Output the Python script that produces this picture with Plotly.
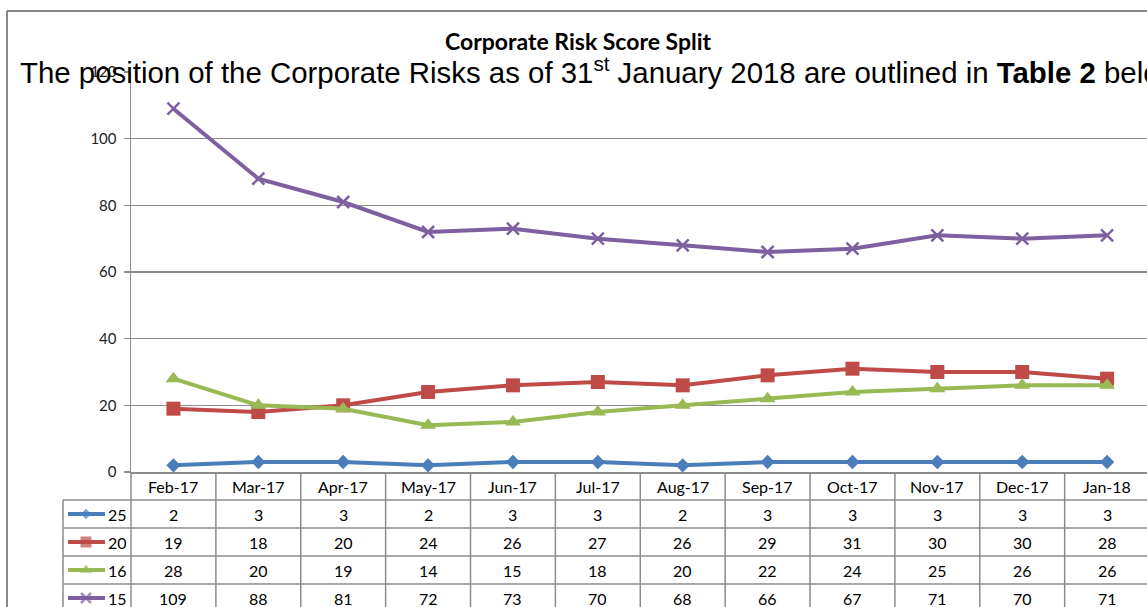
import plotly.graph_objects as go

months = ["Feb-17", "Mar-17", "Apr-17", "May-17", "Jun-17", "Jul-17",
          "Aug-17", "Sep-17", "Oct-17", "Nov-17", "Dec-17", "Jan-18"]
series_names = ["25", "20", "16", "15"]
s25 = [2, 3, 3, 2, 3, 3, 2, 3, 3, 3, 3, 3]
s20 = [19, 18, 20, 24, 26, 27, 26, 29, 31, 30, 30, 28]
s16 = [28, 20, 19, 14, 15, 18, 20, 22, 24, 25, 26, 26]
s15 = [109, 88, 81, 72, 73, 70, 68, 66, 67, 71, 70, 71]
y_ticks = [0, 20, 40, 60, 80, 100, 120]

series = [s25, s20, s16, s15]
colors = ["#4A7EBB", "#BE4B48", "#98B954", "#7D60A0"]
symbols = ["diamond", "square", "triangle-up", "x-thin"]
msizes = [11, 14, 14, 12]
key_sizes = [8, 11, 11, 10]

# page geometry (screen pixels); body margin removed in post_script
OFF = 0
SCREEN_W, SCREEN_H = 1147, 607
Wf, Hf = SCREEN_W - OFF, SCREEN_H - OFF
left_px, top_px, bottom_px = 131, 72, 472
legend_left_px = 63
row_h = 28
x_hi = 11.47
grid = "#8C8C8C"
font_c = "Lato, 'Liberation Sans', sans-serif"


def px(x):
    return (x - OFF) / Wf


def py(y):
    return 1 - (y - OFF) / Hf


def mline(sym, c):
    return dict(color=c, width=2.5 if sym == "x-thin" else 0)


fig = go.Figure()
for name, vals, c, sym, ms in zip(series_names, series, colors, symbols, msizes):
    fig.add_trace(go.Scatter(
        x=months, y=vals, mode="lines+markers", name=name,
        line=dict(color=c, width=4),
        marker=dict(symbol=sym, size=ms, color=c, line=mline(sym, c)),
        showlegend=False, cliponaxis=False, hoverinfo="skip"))

# legend keys in the table's left column (overlay axes in screen-pixel units)
for i, (c, sym, ks) in enumerate(zip(colors, symbols, key_sizes)):
    yc = bottom_px + row_h * (i + 1.5)
    fig.add_trace(go.Scatter(
        x=[68, 86, 105], y=[yc, yc, yc], mode="lines+markers",
        line=dict(color=c, width=4),
        marker=dict(symbol=sym, size=[0, ks, 0], color=c, line=mline(sym, c)),
        xaxis="x2", yaxis="y2", showlegend=False, cliponaxis=False, hoverinfo="skip"))

colw_px = (SCREEN_W - left_px) / (x_hi + 0.5)

shapes = []
line = dict(color=grid, width=1.5)
border = dict(color="#878787", width=2)
shapes.append(dict(type="line", xref="paper", yref="paper", x0=px(7), x1=1,
                   y0=py(11), y1=py(11), line=border))
shapes.append(dict(type="line", xref="paper", yref="paper", x0=px(7), x1=px(7),
                   y0=py(11), y1=0, line=border))
# table vertical lines
for k in range(len(months) + 1):
    xk = px(left_px + k * colw_px)
    if xk > 1:
        break
    shapes.append(dict(type="line", xref="paper", yref="paper", x0=xk, x1=xk,
                       y0=py(bottom_px), y1=0, line=line))
shapes.append(dict(type="line", xref="paper", yref="paper", x0=px(legend_left_px),
                   x1=px(legend_left_px), y0=py(bottom_px + row_h), y1=0, line=line))
# table horizontal lines
for r in range(1, len(series) + 1):
    yr = py(bottom_px + r * row_h)
    shapes.append(dict(type="line", xref="paper", yref="paper", x0=px(legend_left_px),
                       x1=1, y0=yr, y1=yr, line=line))

annotations = []
annotations.append(dict(text="<b>Corporate Risk Score Split</b>", xref="paper", yref="paper",
                        x=px(578), y=py(41), xanchor="center", yanchor="middle", showarrow=False,
                        font=dict(family=font_c, size=23, color="#000000")))
annotations.append(dict(
    text="The position of the Corporate Risks as of 31<sup>st</sup> January 2018 are outlined in <b>Table 2</b> below",
    xref="paper", yref="paper", x=px(18), y=py(70), xanchor="left", yanchor="middle",
    showarrow=False, font=dict(family="'Liberation Sans', Arial, sans-serif", size=29.4, color="#000000")))
for m in months:
    annotations.append(dict(text=m, xref="x", yref="paper", x=m, y=py(bottom_px + row_h / 2),
                            xanchor="center", yanchor="middle", showarrow=False,
                            font=dict(family=font_c, size=16, color="#000000")))
for i, (name, vals) in enumerate(zip(series_names, series)):
    yc = py(bottom_px + row_h * (i + 1.5))
    annotations.append(dict(text=name, xref="paper", yref="paper", x=px(129), y=yc,
                            xanchor="right", yanchor="middle", showarrow=False,
                            font=dict(family=font_c, size=16, color="#000000")))
    for m, v in zip(months, vals):
        annotations.append(dict(text=str(v), xref="x", yref="paper", x=m, y=yc,
                                xanchor="center", yanchor="middle", showarrow=False,
                                font=dict(family=font_c, size=16, color="#000000")))

fig.update_layout(
    template="none", hovermode=False, dragmode=False,
    width=Wf, height=Hf, margin=dict(l=0, r=0, t=0, b=0, pad=0, autoexpand=False),
    paper_bgcolor="white", plot_bgcolor="white", showlegend=False,
    xaxis=dict(type="category", categoryorder="array", categoryarray=months,
               range=[-0.5, x_hi], domain=[px(left_px), 1], automargin=False,
               showticklabels=False, showgrid=False, zeroline=False,
               showline=True, linecolor=grid, linewidth=1.5, ticks="", fixedrange=True),
    yaxis=dict(range=[0, 120], tickvals=y_ticks, domain=[py(bottom_px), py(top_px)],
               automargin=False, fixedrange=True,
               showgrid=True, gridcolor=grid, gridwidth=1.5, zeroline=False,
               showline=True, linecolor=grid, linewidth=1.5,
               ticks="outside", ticklen=6, tickcolor=grid, tickwidth=1.5,
               ticklabelstandoff=4,
               tickfont=dict(family=font_c, size=15, color="#222222")),
    xaxis2=dict(domain=[0, px(left_px)], range=[OFF, left_px], visible=False,
                fixedrange=True, automargin=False),
    yaxis2=dict(domain=[0, py(bottom_px)], range=[SCREEN_H, bottom_px], visible=False,
                fixedrange=True, automargin=False),
    shapes=shapes, annotations=annotations,
)

fig.write_html("out.html", config={"displayModeBar": False, "staticPlot": True},
               post_script="document.body.style.margin='0px';document.body.style.overflow='hidden';")
